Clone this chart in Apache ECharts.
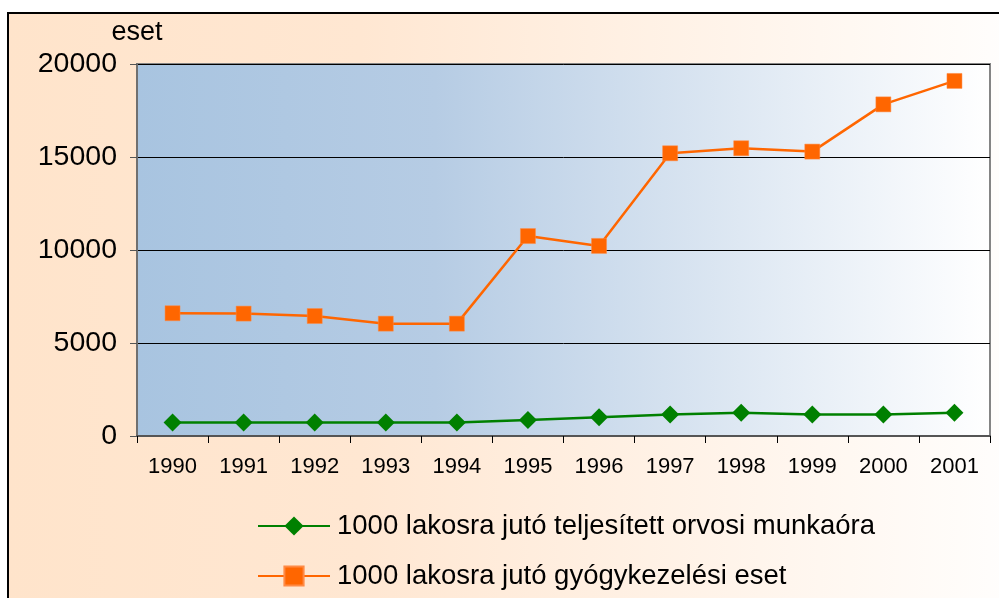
<!DOCTYPE html>
<html>
<head>
<meta charset="utf-8">
<script src="https://cdn.jsdelivr.net/npm/echarts@6/dist/echarts.min.js"></script>
<style>
  html, body { margin: 0; padding: 0; background: #fff; }
  #chart { width: 999px; height: 598px; }
</style>
</head>
<body>
<div id="chart"></div>
<script>
// Years on the category axis
const years = ['1990', '1991', '1992', '1993', '1994', '1995', '1996', '1997', '1998', '1999', '2000', '2001'];
// Performed physician work hours per 1000 inhabitants
const workHours = [720, 720, 720, 720, 720, 860, 1010, 1150, 1250, 1150, 1150, 1250];
// Treatment cases per 1000 inhabitants
const treatmentCases = [6600, 6580, 6450, 6040, 6040, 10750, 10220, 15200, 15470, 15290, 17830, 19090];
// Value-axis ticks
const yTicks = [0, 5000, 10000, 15000, 20000];

const seriesNames = [
  '1000 lakosra jutó teljesített orvosi munkaóra',
  '1000 lakosra jutó gyógykezelési eset'
];

const FONT = '"Liberation Sans", Arial, sans-serif';

const chart = echarts.init(document.getElementById('chart'), null, { renderer: 'canvas' });

chart.setOption({
  backgroundColor: '#ffffff',
  animation: false,
  textStyle: { fontFamily: FONT, color: '#000' },
  graphic: [
    {
      type: 'rect',
      z: -10,
      silent: true,
      shape: { x: 8, y: 13, width: 1010, height: 610 },
      style: {
        fill: new echarts.graphic.LinearGradient(0, 0, 1, 0, [
          { offset: 0, color: '#ffe4cb' },
          { offset: 0.35, color: '#ffe7d2' },
          { offset: 1, color: '#fffefd' }
        ]),
        stroke: '#000',
        lineWidth: 2
      }
    }
  ],
  grid: {
    left: 137,
    top: 64,
    width: 853,
    height: 372,
    show: true,
    backgroundColor: new echarts.graphic.LinearGradient(0, 0, 1, 0, [
      { offset: 0, color: '#a8c4e0' },
      { offset: 0.35, color: '#b6cce4' },
      { offset: 1, color: '#ffffff' }
    ]),
    borderColor: '#858585',
    borderWidth: 2
  },
  legend: {
    orient: 'vertical',
    left: 252,
    top: 507,
    itemWidth: 72,
    itemHeight: 24,
    itemGap: 22,
    textStyle: { fontFamily: FONT, fontSize: 27.5, color: '#000', padding: [0, 0, 0, 2] },
    data: seriesNames
  },
  xAxis: {
    type: 'category',
    data: years,
    boundaryGap: true,
    axisLine: { show: true, lineStyle: { color: '#555', width: 2 } },
    axisTick: { show: true, inside: false, length: 7, alignWithLabel: false, lineStyle: { color: '#000', width: 1 } },
    axisLabel: { fontFamily: FONT, fontSize: 22, color: '#000', margin: 20 },
    splitLine: { show: false }
  },
  yAxis: {
    type: 'value',
    min: yTicks[0],
    max: yTicks[yTicks.length - 1],
    interval: yTicks[1] - yTicks[0],
    name: 'eset',
    nameLocation: 'end',
    nameGap: 18,
    nameTextStyle: { fontFamily: FONT, fontSize: 27, color: '#000', align: 'center' },
    axisLine: { show: true, lineStyle: { color: '#707070', width: 2 } },
    axisTick: { show: true, inside: false, length: 7, lineStyle: { color: '#555', width: 1 } },
    axisLabel: { fontFamily: FONT, fontSize: 28.5, color: '#000', margin: 20, formatter: (v) => String(v) },
    splitLine: { show: true, lineStyle: { color: '#000', width: 1 } }
  },
  series: [
    {
      name: seriesNames[0],
      type: 'line',
      data: workHours,
      symbol: 'diamond',
      symbolSize: 18,
      color: '#008000',
      lineStyle: { color: '#008000', width: 2.5 },
      itemStyle: { color: '#008000' }
    },
    {
      name: seriesNames[1],
      type: 'line',
      data: treatmentCases,
      symbol: 'rect',
      symbolSize: 15,
      color: '#ff6600',
      lineStyle: { color: '#ff6600', width: 2.5 },
      itemStyle: { color: '#ff6600', borderColor: '#ff8a45', borderWidth: 0.5 }
    }
  ]
});
</script>
</body>
</html>
